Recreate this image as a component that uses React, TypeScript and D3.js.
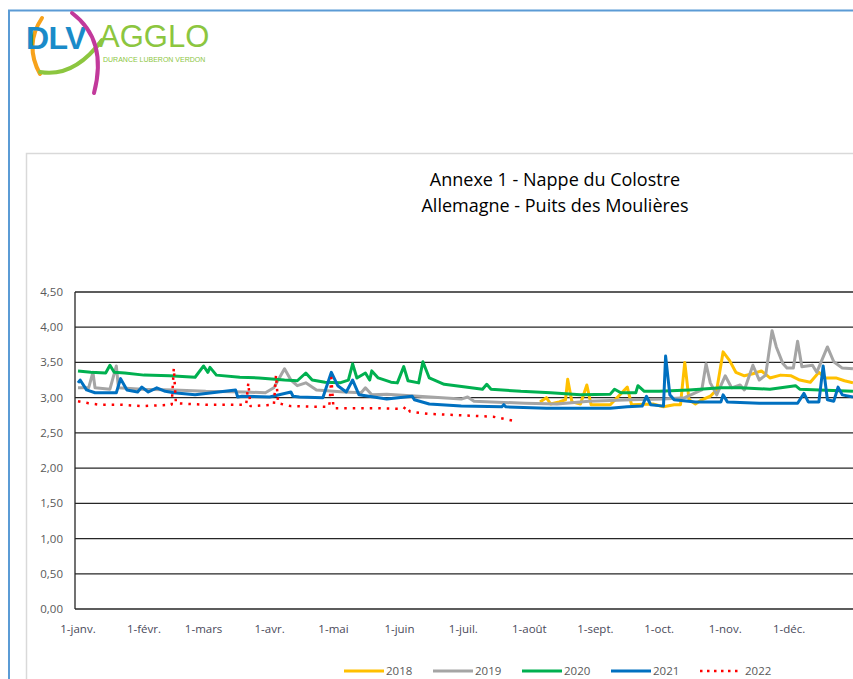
import * as d3 from "d3";
import { useEffect, useRef } from "react";

// day of year (0 = 1 janv.) and level (m) for each year
const days2018 = [217, 220, 222, 226, 229, 230, 232, 236, 239, 241, 250, 258, 260, 270, 275, 280, 283, 285, 287, 290, 293, 297, 300, 303, 306, 309, 313, 317, 321, 325, 330, 335, 339, 344, 348, 351, 356, 360, 364];
const values2018 = [2.94, 3.0, 2.91, 2.94, 2.97, 3.26, 2.94, 2.91, 3.18, 2.9, 2.9, 3.15, 2.9, 2.91, 2.87, 2.9, 2.9, 3.5, 2.97, 2.91, 2.97, 3.02, 3.11, 3.65, 3.53, 3.36, 3.31, 3.34, 3.38, 3.28, 3.32, 3.31, 3.25, 3.22, 3.36, 3.28, 3.28, 3.24, 3.21];

const days2019 = [0, 5, 7, 8, 15, 18, 19, 30, 45, 60, 78, 88, 92, 97, 100, 103, 107, 112, 125, 133, 135, 138, 145, 160, 180, 183, 186, 210, 225, 240, 260, 275, 285, 293, 295, 297, 300, 304, 307, 311, 313, 317, 320, 323, 326, 328, 331, 333, 336, 338, 340, 345, 347, 352, 355, 359, 364];
const values2019 = [3.14, 3.14, 3.36, 3.14, 3.12, 3.45, 3.14, 3.12, 3.11, 3.09, 3.08, 3.07, 3.14, 3.41, 3.25, 3.17, 3.21, 3.11, 3.08, 3.07, 3.14, 3.04, 3.05, 3.02, 2.98, 3.01, 2.95, 2.92, 2.91, 2.95, 2.97, 2.98, 3.0, 3.11, 3.48, 3.21, 3.04, 3.31, 3.14, 3.18, 3.11, 3.46, 3.25, 3.32, 3.95, 3.72, 3.49, 3.42, 3.42, 3.8, 3.44, 3.46, 3.36, 3.72, 3.51, 3.42, 3.41];

const days2020 = [0, 6, 13, 15, 17, 22, 31, 43, 55, 59, 61, 62, 65, 76, 85, 97, 103, 107, 110, 116, 123, 127, 129, 131, 135, 137, 138, 141, 147, 150, 153, 155, 160, 162, 165, 172, 182, 190, 192, 194, 208, 222, 236, 250, 252, 255, 262, 263, 266, 273, 287, 302, 311, 325, 337, 339, 364];
const values2020 = [3.38, 3.36, 3.35, 3.46, 3.36, 3.35, 3.32, 3.31, 3.29, 3.45, 3.36, 3.43, 3.32, 3.29, 3.28, 3.25, 3.24, 3.35, 3.25, 3.22, 3.21, 3.25, 3.48, 3.28, 3.35, 3.25, 3.38, 3.28, 3.22, 3.21, 3.44, 3.24, 3.21, 3.51, 3.28, 3.19, 3.15, 3.12, 3.19, 3.12, 3.09, 3.07, 3.04, 3.05, 3.12, 3.07, 3.07, 3.17, 3.09, 3.09, 3.11, 3.14, 3.14, 3.12, 3.17, 3.12, 3.09];

const days2021 = [0, 1, 4, 8, 18, 20, 23, 28, 30, 33, 37, 41, 45, 55, 74, 75, 77, 90, 100, 101, 104, 115, 119, 122, 126, 129, 132, 145, 157, 158, 165, 180, 199, 200, 201, 220, 250, 258, 265, 267, 269, 275, 276, 278, 280, 290, 302, 303, 305, 320, 338, 341, 343, 348, 350, 352, 355, 357, 359, 364];
const values2021 = [3.21, 3.25, 3.11, 3.07, 3.07, 3.27, 3.11, 3.08, 3.15, 3.08, 3.14, 3.09, 3.07, 3.04, 3.11, 3.01, 3.02, 3.01, 3.08, 3.02, 3.01, 3.0, 3.36, 3.17, 3.08, 3.25, 3.04, 2.98, 3.02, 2.97, 2.91, 2.88, 2.87, 2.9, 2.87, 2.85, 2.85, 2.87, 2.88, 3.02, 2.9, 2.88, 3.59, 3.04, 2.97, 2.94, 2.94, 3.04, 2.94, 2.92, 2.92, 3.06, 2.94, 2.94, 3.45, 2.97, 2.95, 3.15, 3.04, 3.01];

const days2022 = [0, 5, 10, 20, 30, 44, 45, 46, 60, 79, 80, 81, 92, 93, 94, 100, 115, 118, 119, 120, 125, 140, 153, 154, 156, 165, 180, 195, 205];
const values2022 = [2.95, 2.92, 2.9, 2.9, 2.88, 2.9, 3.42, 2.92, 2.9, 2.9, 3.21, 2.88, 2.9, 3.32, 2.92, 2.88, 2.87, 2.87, 3.28, 2.85, 2.85, 2.85, 2.84, 2.88, 2.8, 2.77, 2.75, 2.73, 2.67];

const years = ["2018", "2019", "2020", "2021", "2022"];
const yearColors = ["#ffc000", "#a5a5a5", "#00b050", "#0070c0", "#ff0000"];

const monthLabels = ["1-janv.", "1-févr.", "1-mars", "1-avr.", "1-mai", "1-juin", "1-juil.", "1-août", "1-sept.", "1-oct.", "1-nov.", "1-déc."];
const monthDays = [0, 31, 59, 90, 120, 151, 181, 212, 243, 273, 304, 334];
const yTicks = [0, 0.5, 1, 1.5, 2, 2.5, 3, 3.5, 4, 4.5];

const FONT = "'Open Sans', 'Liberation Sans', sans-serif";
const LOGO_FONT = "'Liberation Sans', Arial, sans-serif";

export default function App() {
  const ref = useRef<SVGSVGElement>(null);

  useEffect(() => {
    document.body.style.margin = "0";
    const svg = d3.select(ref.current);
    svg.selectAll("*").remove();

    const W = 853,
      H = 679;
    const plot = { left: 75, top: 292, bottom: 609, right: 870 };

    svg.append("rect").attr("width", W).attr("height", H).attr("fill", "#fff");

    // outer blue frame
    svg.append("path")
      .attr("d", `M9,${H} V10.5 H${W}`)
      .attr("fill", "none")
      .attr("stroke", "#5b9bd5")
      .attr("stroke-width", 2);

    // logo
    const logo = svg.append("g");
    logo.append("path")
      .attr("d", "M42,18 Q24,45 40,74")
      .attr("fill", "none").attr("stroke", "#f7a21b").attr("stroke-width", 4).attr("stroke-linecap", "round");
    logo.append("text")
      .attr("x", 26).attr("y", 49)
      .attr("font-family", LOGO_FONT).attr("font-weight", "bold").attr("font-size", 32)
      .attr("fill", "#1a8bc9").attr("letter-spacing", -0.5)
      .text("DLV");
    logo.append("path")
      .attr("d", "M40,72 Q74,78 102,40")
      .attr("fill", "none").attr("stroke", "#8cc63f").attr("stroke-width", 4).attr("stroke-linecap", "round");
    logo.append("path")
      .attr("d", "M72,13 Q108,40 94,93")
      .attr("fill", "none").attr("stroke", "#c2399b").attr("stroke-width", 4).attr("stroke-linecap", "round");
    logo.append("text")
      .attr("x", 99).attr("y", 47)
      .attr("font-family", LOGO_FONT).attr("font-size", 31)
      .attr("fill", "#8cc63f")
      .text("AGGLO");
    logo.append("text")
      .attr("x", 103).attr("y", 62)
      .attr("font-family", LOGO_FONT).attr("font-size", 7)
      .attr("fill", "#8cc63f")
      .text("DURANCE LUBERON VERDON");

    // chart frame
    svg.append("rect")
      .attr("x", 26.5).attr("y", 153.5)
      .attr("width", W).attr("height", H)
      .attr("fill", "none").attr("stroke", "#d9d9d9").attr("stroke-width", 1.5);

    // title
    const title = svg.append("text")
      .attr("text-anchor", "middle")
      .attr("font-family", FONT).attr("font-size", 18).attr("fill", "#000");
    title.append("tspan").attr("x", 555).attr("y", 186).text("Annexe 1 - Nappe du Colostre");
    title.append("tspan").attr("x", 555).attr("y", 212).text("Allemagne - Puits des Moulières");

    const x = d3.scaleLinear().domain([0, 365]).range([78, 78 + 365 * 2.129]);
    const y = d3.scaleLinear().domain([0, 4.5]).range([plot.bottom, plot.top]);
    const fmt = (v: number) => d3.format(".2f")(v).replace(".", ",");

    // gridlines
    svg.append("g")
      .selectAll("line")
      .data(yTicks)
      .join("line")
      .attr("x1", plot.left).attr("x2", plot.right)
      .attr("y1", (d) => y(d)).attr("y2", (d) => y(d))
      .attr("stroke", "#262626").attr("stroke-width", 1.3);

    svg.append("line")
      .attr("x1", plot.left).attr("x2", plot.left)
      .attr("y1", plot.top).attr("y2", plot.bottom)
      .attr("stroke", "#262626").attr("stroke-width", 1.3);

    // y labels
    svg.append("g")
      .selectAll("text")
      .data(yTicks)
      .join("text")
      .attr("x", 63).attr("y", (d) => y(d) + 4)
      .attr("text-anchor", "end")
      .attr("font-family", FONT).attr("font-size", 11.5).attr("fill", "#595959")
      .text((d) => fmt(d));

    // x labels
    svg.append("g")
      .selectAll("text")
      .data(monthDays)
      .join("text")
      .attr("x", (d) => x(d)).attr("y", 633)
      .attr("text-anchor", "middle")
      .attr("font-family", FONT).attr("font-size", 11.5).attr("fill", "#4a4a5a")
      .text((_, i) => monthLabels[i]);

    // series
    const allDays = [days2018, days2019, days2020, days2021, days2022];
    const allValues = [values2018, values2019, values2020, values2021, values2022];
    const line = d3.line<[number, number]>()
      .x((d) => x(d[0]))
      .y((d) => y(d[1]));

    const clip = svg.append("clipPath").attr("id", "plot-clip");
    clip.append("rect").attr("x", plot.left).attr("y", 0).attr("width", W).attr("height", H);

    const series = svg.append("g").attr("clip-path", "url(#plot-clip)");
    years.forEach((yr, i) => {
      const pts = allDays[i].map((d, j) => [d, allValues[i][j]] as [number, number]);
      const dotted = yr === "2022";
      series.append("path")
        .datum(pts)
        .attr("d", line)
        .attr("fill", "none")
        .attr("stroke", yearColors[i])
        .attr("stroke-width", dotted ? 2.5 : 3)
        .attr("stroke-linejoin", "round")
        .attr("stroke-dasharray", dotted ? "2.5 6" : null);
    });

    // legend
    const legendX = [344, 433, 522, 611, 700];
    const legend = svg.append("g");
    years.forEach((yr, i) => {
      const dotted = yr === "2022";
      legend.append("line")
        .attr("x1", legendX[i]).attr("x2", legendX[i] + 40)
        .attr("y1", 671).attr("y2", 671)
        .attr("stroke", yearColors[i])
        .attr("stroke-width", dotted ? 2.5 : 3)
        .attr("stroke-dasharray", dotted ? "2.5 4.5" : null);
      legend.append("text")
        .attr("x", legendX[i] + (dotted ? 45 : 42)).attr("y", 675)
        .attr("font-family", FONT).attr("font-size", 11.5).attr("fill", "#595959")
        .text(yr);
    });
  }, []);

  return <svg ref={ref} width={853} height={679} style={{ display: "block" }} />;
}
